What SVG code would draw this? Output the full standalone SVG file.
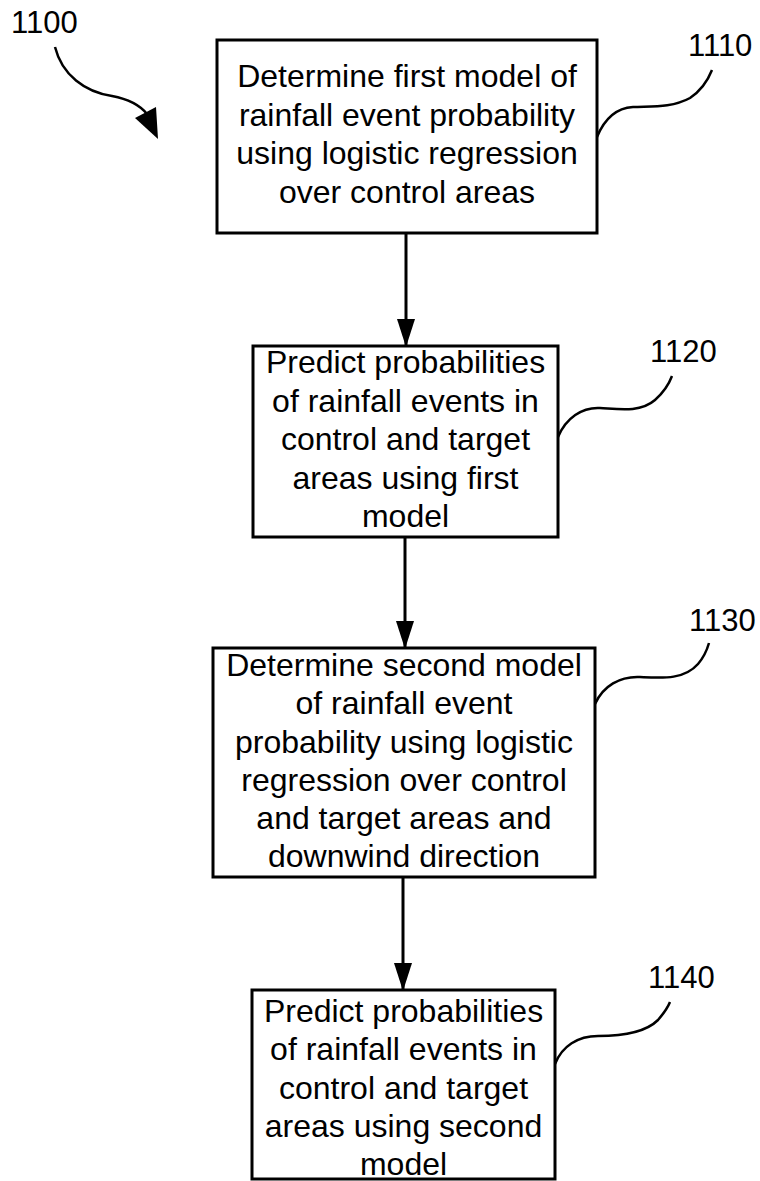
<svg xmlns="http://www.w3.org/2000/svg" width="760" height="1181" viewBox="0 0 760 1181">
  <style>
    .box { fill: #fff; stroke: #000; stroke-width: 3; }
    .txt { font-family: "Liberation Sans", Arial, sans-serif; font-size: 32px; fill: #000; text-anchor: middle; }
    .ref { font-family: "Liberation Sans", Arial, sans-serif; font-size: 31px; fill: #000; }
    .edge { stroke: #000; stroke-width: 3; fill: none; }
    .lead { stroke: #000; stroke-width: 2.5; fill: none; }
  </style>
  <defs>
    <marker id="arrow" markerWidth="28" markerHeight="18" refX="27" refY="9" viewBox="0 0 28 18" markerUnits="userSpaceOnUse" orient="auto">
      <path d="M0,0 L28,9 L0,18 Z" fill="#000"/>
    </marker>
  </defs>

  <!-- figure reference and pointer -->
  <g id="fig-ref">
    <text class="ref" x="11" y="33">1100</text>
    <path class="lead" d="M55,47 C62,75 85,92 112,96 C128,99 139,104 147,114"/>
    <path d="M158,139 L135,118 L156,107 Z" fill="#000"/>
  </g>

  <!-- step nodes -->
  <g id="step-1110">
    <rect class="box" x="217" y="40" width="380" height="193"/>
    <text class="txt" x="407" y="87">Determine first model of</text>
    <text class="txt" x="407" y="125.5">rainfall event probability</text>
    <text class="txt" x="407" y="164">using logistic regression</text>
    <text class="txt" x="407" y="202.5">over control areas</text>
    <text class="ref" x="688" y="56">1110</text>
    <path class="lead" d="M597,137 C604,120 616,108 633,107 C650,106 672,108 690,98 C702,90 708,80 712,70"/>
  </g>

  <g id="step-1120">
    <rect class="box" x="253" y="346" width="305" height="191"/>
    <text class="txt" x="405.5" y="373">Predict probabilities</text>
    <text class="txt" x="405.5" y="411.5">of rainfall events in</text>
    <text class="txt" x="405.5" y="450">control and target</text>
    <text class="txt" x="405.5" y="488.5">areas using first</text>
    <text class="txt" x="405.5" y="527">model</text>
    <text class="ref" x="650" y="362">1120</text>
    <path class="lead" d="M558,437 C566,418 582,407 600,408 C618,409 640,413 655,400 C664,392 669,384 672,376"/>
  </g>

  <g id="step-1130">
    <rect class="box" x="213" y="648" width="382" height="229"/>
    <text class="txt" x="404" y="676">Determine second model</text>
    <text class="txt" x="404" y="714">of rainfall event</text>
    <text class="txt" x="404" y="752.5">probability using logistic</text>
    <text class="txt" x="404" y="791">regression over control</text>
    <text class="txt" x="404" y="829">and target areas and</text>
    <text class="txt" x="404" y="867">downwind direction</text>
    <text class="ref" x="689" y="631">1130</text>
    <path class="lead" d="M595,704 C603,686 620,676 640,677 C662,678 684,680 698,664 C704,657 707,650 709,643"/>
  </g>

  <g id="step-1140">
    <rect class="box" x="252" y="990" width="303" height="189"/>
    <text class="txt" x="403.5" y="1022">Predict probabilities</text>
    <text class="txt" x="403.5" y="1060">of rainfall events in</text>
    <text class="txt" x="403.5" y="1098.5">control and target</text>
    <text class="txt" x="403.5" y="1137">areas using second</text>
    <text class="txt" x="403.5" y="1175">model</text>
    <text class="ref" x="648" y="988">1140</text>
    <path class="lead" d="M555,1064 C562,1046 578,1036 598,1036 C620,1036 645,1033 658,1020 C664,1013 668,1007 670,1002"/>
  </g>

  <!-- flow connectors -->
  <g id="connectors">
    <line class="edge" x1="406" y1="233" x2="406" y2="346" marker-end="url(#arrow)"/>
    <line class="edge" x1="405" y1="537" x2="405" y2="648" marker-end="url(#arrow)"/>
    <line class="edge" x1="403" y1="877" x2="403" y2="990" marker-end="url(#arrow)"/>
  </g>
</svg>
